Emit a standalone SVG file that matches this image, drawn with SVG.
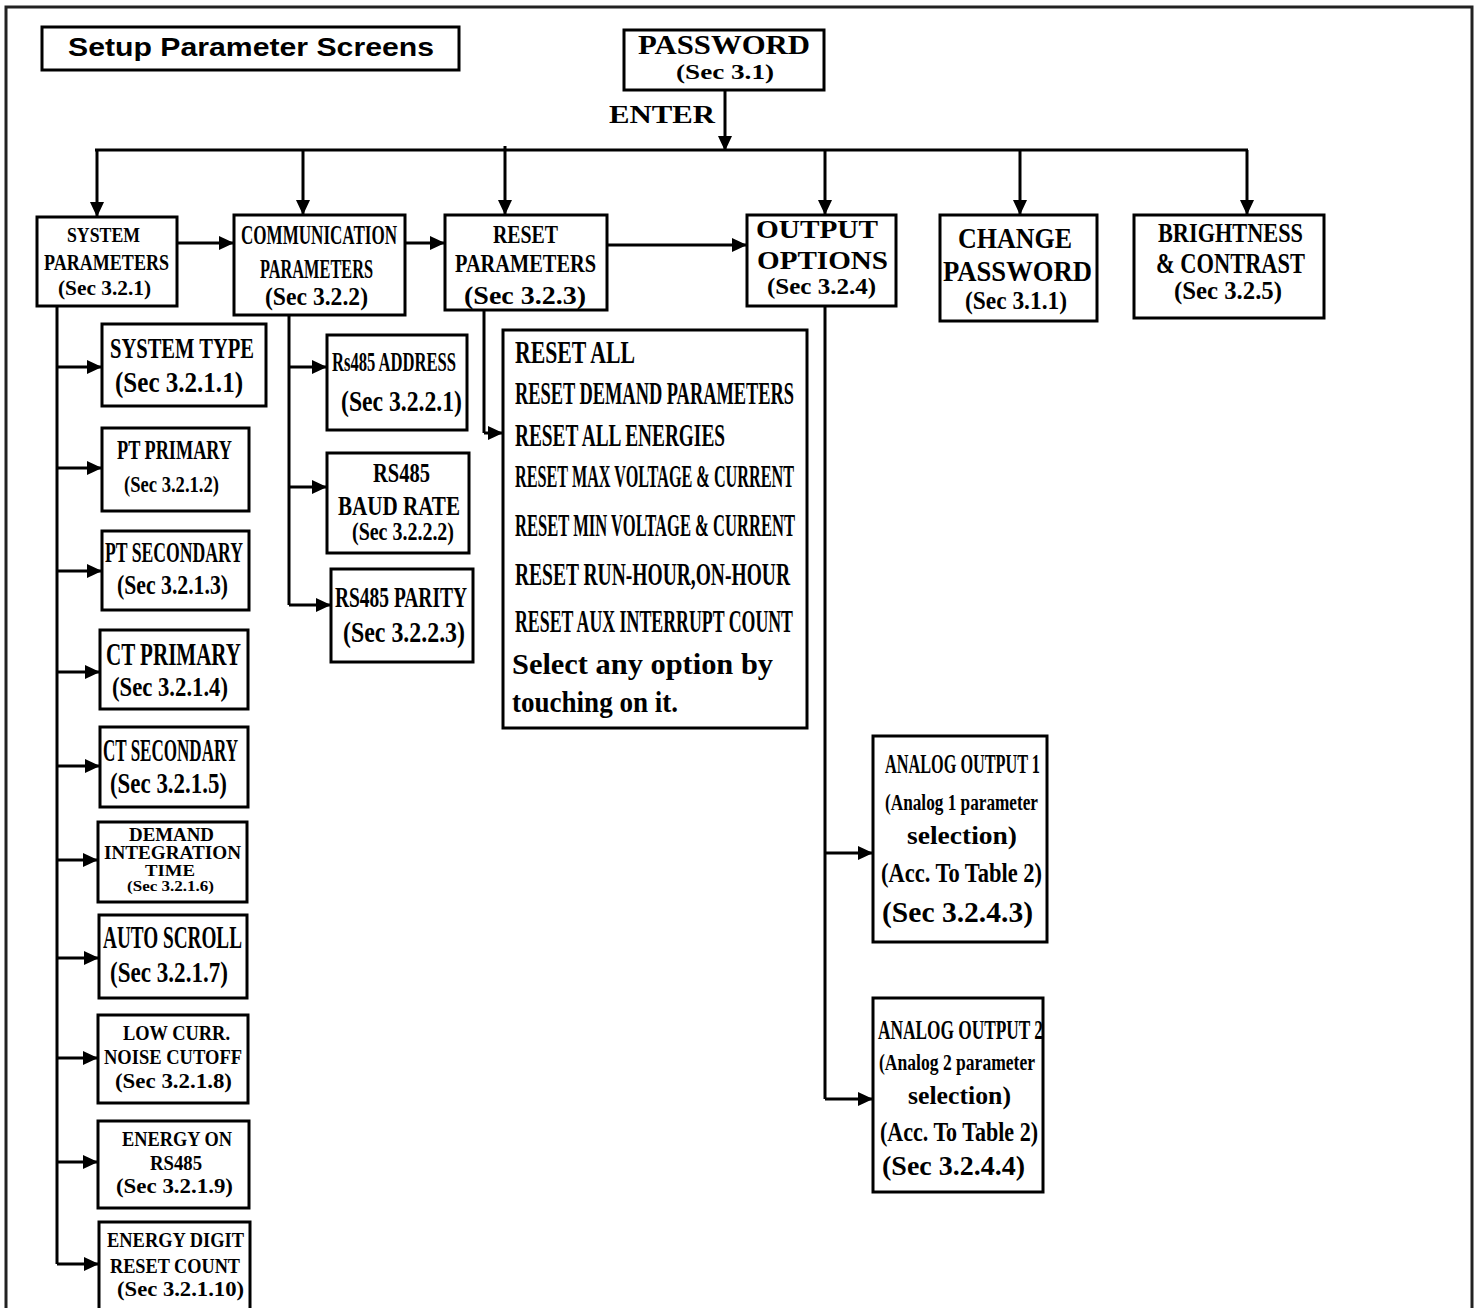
<svg xmlns="http://www.w3.org/2000/svg" width="1478" height="1308" viewBox="0 0 1478 1308">
<style>
.box{fill:#fff;stroke:#000;stroke-width:3}
.frame{fill:none;stroke:#222;stroke-width:3}
.t{font-family:"Liberation Serif","Times New Roman",serif;font-weight:bold;fill:#000}
.s{font-family:"Liberation Sans",Arial,sans-serif;font-weight:bold;fill:#000}
.ln{fill:none;stroke:#000;stroke-width:3}
.ar{fill:none;stroke:#000;stroke-width:3;marker-end:url(#ah)}
</style>
<defs>
<marker id="ah" viewBox="0 0 15 14" refX="14" refY="7" markerWidth="15" markerHeight="14" markerUnits="userSpaceOnUse" orient="auto">
<path d="M0,0 L15,7 L0,14 z" fill="#000"/>
</marker>
</defs>
<rect class="frame" x="6" y="7" width="1466" height="1330"/>

<g id="title">
<rect class="box" x="42" y="27" width="417" height="43"/>
<text class="s" x="68" y="56" font-size="25" textLength="366" lengthAdjust="spacingAndGlyphs">Setup Parameter Screens</text>
</g>

<g id="connectors">
<path class="ar" d="M725,90 V150"/>
<path class="ln" d="M95,150 H1248"/>
<path class="ar" d="M97,150 V216"/>
<path class="ar" d="M303,150 V214"/>
<path class="ar" d="M505,146 V214"/>
<path class="ar" d="M825,150 V214"/>
<path class="ar" d="M1020,150 V214"/>
<path class="ar" d="M1247,150 V214"/>
<path class="ar" d="M177,243 H233"/>
<path class="ar" d="M405,243 H444"/>
<path class="ar" d="M607,245 H746"/>
<path class="ln" d="M57,306 V1264"/>
<path class="ar" d="M57,367 H101"/>
<path class="ar" d="M57,468 H101"/>
<path class="ar" d="M57,571 H101"/>
<path class="ar" d="M57,672 H99"/>
<path class="ar" d="M57,766 H99"/>
<path class="ar" d="M57,860 H97"/>
<path class="ar" d="M57,958 H98"/>
<path class="ar" d="M57,1058 H97"/>
<path class="ar" d="M57,1162 H97"/>
<path class="ar" d="M57,1264 H98"/>
<path class="ln" d="M289,315 V605"/>
<path class="ar" d="M289,367 H326"/>
<path class="ar" d="M289,487 H326"/>
<path class="ar" d="M289,605 H330"/>
<path class="ln" d="M484,310 V433"/>
<path class="ar" d="M484,433 H502"/>
<path class="ln" d="M825,306 V1099"/>
<path class="ar" d="M825,853 H872"/>
<path class="ar" d="M825,1099 H872"/>
<path d="M368,228 V283" fill="none" stroke="#888" stroke-width="0.8"/>
</g>

<g id="password">
<rect class="box" x="624" y="30" width="200" height="60"/>
<text class="t" x="638" y="54" font-size="28" textLength="172" lengthAdjust="spacingAndGlyphs">PASSWORD</text>
<text class="t" x="676" y="79" font-size="21" textLength="98" lengthAdjust="spacingAndGlyphs">(Sec 3.1)</text>
</g>
<g id="enter">
<text class="t" x="609" y="123" font-size="26" textLength="106" lengthAdjust="spacingAndGlyphs">ENTER</text>
</g>

<g id="system-parameters">
<rect class="box" x="37" y="217" width="140" height="89"/>
<text class="t" x="67" y="242" font-size="22" textLength="73" lengthAdjust="spacingAndGlyphs">SYSTEM</text>
<text class="t" x="44" y="270" font-size="24" textLength="125" lengthAdjust="spacingAndGlyphs">PARAMETERS</text>
<text class="t" x="58" y="295" font-size="22" textLength="93" lengthAdjust="spacingAndGlyphs">(Sec 3.2.1)</text>
</g>

<g id="communication-parameters">
<rect class="box" x="234" y="215" width="171" height="100"/>
<text class="t" x="241" y="244" font-size="28" textLength="156" lengthAdjust="spacingAndGlyphs">COMMUNICATION</text>
<text class="t" x="260" y="278" font-size="28" textLength="113" lengthAdjust="spacingAndGlyphs">PARAMETERS</text>
<text class="t" x="265" y="305" font-size="26" textLength="103" lengthAdjust="spacingAndGlyphs">(Sec 3.2.2)</text>
</g>

<g id="reset-parameters">
<rect class="box" x="445" y="215" width="162" height="95"/>
<text class="t" x="493" y="243" font-size="26" textLength="65" lengthAdjust="spacingAndGlyphs">RESET</text>
<text class="t" x="455" y="272" font-size="26" textLength="141" lengthAdjust="spacingAndGlyphs">PARAMETERS</text>
<text class="t" x="464" y="304" font-size="26" textLength="122" lengthAdjust="spacingAndGlyphs">(Sec 3.2.3)</text>
</g>

<g id="output-options">
<rect class="box" x="747" y="215" width="149" height="91"/>
<text class="t" x="756" y="238" font-size="26" textLength="122" lengthAdjust="spacingAndGlyphs">OUTPUT</text>
<text class="t" x="757" y="269" font-size="26" textLength="131" lengthAdjust="spacingAndGlyphs">OPTIONS</text>
<text class="t" x="767" y="294" font-size="24" textLength="109" lengthAdjust="spacingAndGlyphs">(Sec 3.2.4)</text>
</g>

<g id="change-password">
<rect class="box" x="940" y="215" width="157" height="106"/>
<text class="t" x="958" y="248" font-size="30" textLength="114" lengthAdjust="spacingAndGlyphs">CHANGE</text>
<text class="t" x="943" y="281" font-size="30" textLength="149" lengthAdjust="spacingAndGlyphs">PASSWORD</text>
<text class="t" x="965" y="309" font-size="26" textLength="102" lengthAdjust="spacingAndGlyphs">(Sec 3.1.1)</text>
</g>

<g id="brightness-contrast">
<rect class="box" x="1134" y="215" width="190" height="103"/>
<text class="t" x="1158" y="242" font-size="28" textLength="145" lengthAdjust="spacingAndGlyphs">BRIGHTNESS</text>
<text class="t" x="1156" y="273" font-size="29" textLength="149" lengthAdjust="spacingAndGlyphs">&amp; CONTRAST</text>
<text class="t" x="1174" y="299" font-size="25" textLength="108" lengthAdjust="spacingAndGlyphs">(Sec 3.2.5)</text>
</g>

<g id="system-type">
<rect class="box" x="102" y="324" width="164" height="82"/>
<text class="t" x="110" y="358" font-size="30" textLength="144" lengthAdjust="spacingAndGlyphs">SYSTEM TYPE</text>
<text class="t" x="115" y="392" font-size="29" textLength="128" lengthAdjust="spacingAndGlyphs">(Sec 3.2.1.1)</text>
</g>

<g id="pt-primary">
<rect class="box" x="102" y="428" width="147" height="83"/>
<text class="t" x="117" y="459" font-size="28" textLength="115" lengthAdjust="spacingAndGlyphs">PT PRIMARY</text>
<text class="t" x="124" y="492" font-size="24" textLength="95" lengthAdjust="spacingAndGlyphs">(Sec 3.2.1.2)</text>
</g>

<g id="pt-secondary">
<rect class="box" x="102" y="531" width="147" height="79"/>
<text class="t" x="105" y="562" font-size="30" textLength="138" lengthAdjust="spacingAndGlyphs">PT SECONDARY</text>
<text class="t" x="117" y="594" font-size="28" textLength="111" lengthAdjust="spacingAndGlyphs">(Sec 3.2.1.3)</text>
</g>

<g id="ct-primary">
<rect class="box" x="100" y="630" width="148" height="79"/>
<text class="t" x="106" y="665" font-size="31" textLength="135" lengthAdjust="spacingAndGlyphs">CT PRIMARY</text>
<text class="t" x="112" y="696" font-size="28" textLength="116" lengthAdjust="spacingAndGlyphs">(Sec 3.2.1.4)</text>
</g>

<g id="ct-secondary">
<rect class="box" x="100" y="727" width="148" height="80"/>
<text class="t" x="103" y="761" font-size="31" textLength="135" lengthAdjust="spacingAndGlyphs">CT SECONDARY</text>
<text class="t" x="110" y="793" font-size="29" textLength="117" lengthAdjust="spacingAndGlyphs">(Sec 3.2.1.5)</text>
</g>

<g id="demand-integration-time">
<rect class="box" x="98" y="822" width="149" height="80"/>
<text class="t" x="129" y="841" font-size="18" textLength="85" lengthAdjust="spacingAndGlyphs">DEMAND</text>
<text class="t" x="104" y="859" font-size="18" textLength="137" lengthAdjust="spacingAndGlyphs">INTEGRATION</text>
<text class="t" x="145" y="876" font-size="17" textLength="50" lengthAdjust="spacingAndGlyphs">TIME</text>
<text class="t" x="127" y="891" font-size="15" textLength="87" lengthAdjust="spacingAndGlyphs">(Sec 3.2.1.6)</text>
</g>

<g id="auto-scroll">
<rect class="box" x="99" y="915" width="148" height="83"/>
<text class="t" x="103" y="948" font-size="31" textLength="139" lengthAdjust="spacingAndGlyphs">AUTO SCROLL</text>
<text class="t" x="110" y="982" font-size="29" textLength="118" lengthAdjust="spacingAndGlyphs">(Sec 3.2.1.7)</text>
</g>

<g id="low-curr-noise-cutoff">
<rect class="box" x="98" y="1015" width="150" height="88"/>
<text class="t" x="123" y="1040" font-size="21" textLength="107" lengthAdjust="spacingAndGlyphs">LOW CURR.</text>
<text class="t" x="104" y="1064" font-size="21" textLength="138" lengthAdjust="spacingAndGlyphs">NOISE CUTOFF</text>
<text class="t" x="115" y="1088" font-size="21" textLength="117" lengthAdjust="spacingAndGlyphs">(Sec 3.2.1.8)</text>
</g>

<g id="energy-on-rs485">
<rect class="box" x="98" y="1121" width="151" height="87"/>
<text class="t" x="122" y="1146" font-size="21" textLength="110" lengthAdjust="spacingAndGlyphs">ENERGY ON</text>
<text class="t" x="150" y="1170" font-size="21" textLength="52" lengthAdjust="spacingAndGlyphs">RS485</text>
<text class="t" x="116" y="1193" font-size="21" textLength="117" lengthAdjust="spacingAndGlyphs">(Sec 3.2.1.9)</text>
</g>

<g id="energy-digit-reset-count">
<rect class="box" x="99" y="1222" width="151" height="110"/>
<text class="t" x="107" y="1247" font-size="21" textLength="137" lengthAdjust="spacingAndGlyphs">ENERGY DIGIT</text>
<text class="t" x="110" y="1273" font-size="21" textLength="130" lengthAdjust="spacingAndGlyphs">RESET COUNT</text>
<text class="t" x="117" y="1296" font-size="21" textLength="127" lengthAdjust="spacingAndGlyphs">(Sec 3.2.1.10)</text>
</g>

<g id="rs485-address">
<rect class="box" x="327" y="335" width="140" height="95"/>
<text class="t" x="332" y="371" font-size="28" textLength="124" lengthAdjust="spacingAndGlyphs">Rs485 ADDRESS</text>
<text class="t" x="341" y="411" font-size="30" textLength="121" lengthAdjust="spacingAndGlyphs">(Sec 3.2.2.1)</text>
</g>

<g id="rs485-baud-rate">
<rect class="box" x="327" y="453" width="142" height="100"/>
<text class="t" x="373" y="482" font-size="28" textLength="57" lengthAdjust="spacingAndGlyphs">RS485</text>
<text class="t" x="338" y="515" font-size="28" textLength="122" lengthAdjust="spacingAndGlyphs">BAUD RATE</text>
<text class="t" x="352" y="540" font-size="25" textLength="102" lengthAdjust="spacingAndGlyphs">(Sec 3.2.2.2)</text>
</g>

<g id="rs485-parity">
<rect class="box" x="331" y="569" width="142" height="93"/>
<text class="t" x="335" y="607" font-size="30" textLength="132" lengthAdjust="spacingAndGlyphs">RS485 PARITY</text>
<text class="t" x="343" y="642" font-size="29" textLength="122" lengthAdjust="spacingAndGlyphs">(Sec 3.2.2.3)</text>
</g>

<g id="reset-options">
<rect class="box" x="503" y="330" width="304" height="398"/>
<text class="t" x="515" y="363" font-size="31" textLength="120" lengthAdjust="spacingAndGlyphs">RESET ALL</text>
<text class="t" x="515" y="404" font-size="31" textLength="279" lengthAdjust="spacingAndGlyphs">RESET DEMAND PARAMETERS</text>
<text class="t" x="515" y="446" font-size="31" textLength="210" lengthAdjust="spacingAndGlyphs">RESET ALL ENERGIES</text>
<text class="t" x="515" y="487" font-size="31" textLength="279" lengthAdjust="spacingAndGlyphs">RESET MAX VOLTAGE &amp; CURRENT</text>
<text class="t" x="515" y="536" font-size="32" textLength="280" lengthAdjust="spacingAndGlyphs">RESET MIN VOLTAGE &amp; CURRENT</text>
<text class="t" x="515" y="585" font-size="32" textLength="275" lengthAdjust="spacingAndGlyphs">RESET RUN-HOUR,ON-HOUR</text>
<text class="t" x="515" y="632" font-size="31" textLength="278" lengthAdjust="spacingAndGlyphs">RESET AUX INTERRUPT COUNT</text>
<text class="t" x="512" y="674" font-size="30" textLength="261" lengthAdjust="spacingAndGlyphs">Select any option by</text>
<text class="t" x="512" y="712" font-size="30" textLength="166" lengthAdjust="spacingAndGlyphs">touching on it.</text>
</g>

<g id="analog-output-1">
<rect class="box" x="873" y="736" width="174" height="206"/>
<text class="t" x="885" y="773" font-size="28" textLength="155" lengthAdjust="spacingAndGlyphs">ANALOG OUTPUT 1</text>
<text class="t" x="885" y="810" font-size="24" textLength="153" lengthAdjust="spacingAndGlyphs">(Analog 1 parameter</text>
<text class="t" x="907" y="844" font-size="26" textLength="110" lengthAdjust="spacingAndGlyphs">selection)</text>
<text class="t" x="881" y="882" font-size="27" textLength="161" lengthAdjust="spacingAndGlyphs">(Acc. To Table 2)</text>
<text class="t" x="882" y="922" font-size="29" textLength="151" lengthAdjust="spacingAndGlyphs">(Sec 3.2.4.3)</text>
</g>

<g id="analog-output-2">
<rect class="box" x="873" y="998" width="170" height="194"/>
<text class="t" x="878" y="1039" font-size="28" textLength="165" lengthAdjust="spacingAndGlyphs">ANALOG OUTPUT 2</text>
<text class="t" x="879" y="1070" font-size="24" textLength="156" lengthAdjust="spacingAndGlyphs">(Analog 2 parameter</text>
<text class="t" x="908" y="1104" font-size="26" textLength="103" lengthAdjust="spacingAndGlyphs">selection)</text>
<text class="t" x="880" y="1141" font-size="27" textLength="158" lengthAdjust="spacingAndGlyphs">(Acc. To Table 2)</text>
<text class="t" x="882" y="1175" font-size="28" textLength="143" lengthAdjust="spacingAndGlyphs">(Sec 3.2.4.4)</text>
</g>
</svg>
